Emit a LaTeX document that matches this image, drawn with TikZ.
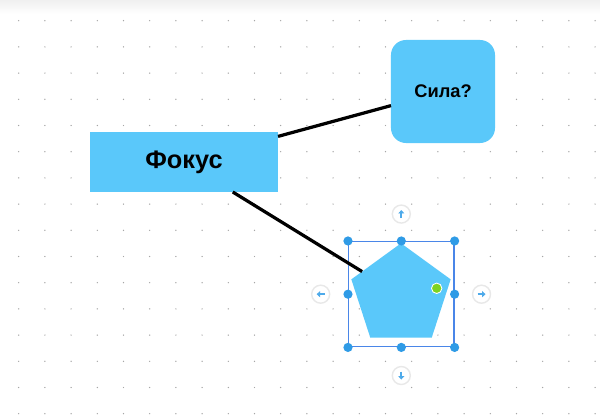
\documentclass[tikz,border=0pt]{standalone}
\usepackage{fontspec}
\setmainfont{Liberation Sans}
\usetikzlibrary{shapes.geometric, arrows.meta, positioning}
\definecolor{shapeblue}{HTML}{5AC8FA}
\definecolor{selblue}{HTML}{4A86E8}
\definecolor{handleblue}{HTML}{2F9BE6}
\definecolor{gripgreen}{HTML}{7ED321}
\tikzset{
  shapebox/.style={fill=shapeblue, inner sep=0pt, outer sep=0pt},
  link/.style={line width=2.3pt, black},
  handledot/.style={circle, fill=handleblue, minimum size=0.23cm, inner sep=0pt},
  navbtn/.style={circle, fill=white, draw=black!9, line width=1pt, minimum size=0.45cm, inner sep=0pt},
  navarrow/.style={-{Triangle[length=2.4pt,width=4.2pt]}, line width=1.3pt, handleblue!85},
}

\begin{document}
\begin{tikzpicture}[x=0.025cm, y=-0.025cm]
    \useasboundingbox (0,0) rectangle (600,418);
    \fill[white] (0,0) rectangle (600,418);
    \shade[top color=black!6, bottom color=white] (0,0) rectangle (600,14);
    \foreach \i in {0,...,22}
      \foreach \j in {0,...,15}
        \fill[black!35] (18.7+26.2*\i, 20.7+26.2*\j) circle (0.018cm);

    \node[shapebox, minimum width=4.7cm, minimum height=1.5cm,
          font=\bfseries\fontsize{18}{21}\selectfont] (fokus) at (184,162) {\raisebox{-1.5pt}{Фокус}};
    \node[shapebox, rounded corners=0.375cm, minimum width=2.6cm, minimum height=2.575cm,
          font=\bfseries\fontsize{13}{15}\selectfont] (sila) at (443,91.5) {\raisebox{-1pt}{Сила?}};
    \node[shapebox, regular polygon, regular polygon sides=5, minimum size=2.61cm] (pent) at (401,295.5) {};

    % selection frame round the pentagon
    \node[draw=selblue, line width=1pt, minimum width=2.63cm, minimum height=2.625cm, inner sep=0pt] (sel) at (401.3,294.2) {};

    \draw[link] (fokus) -- (sila);
    \draw[link] (fokus) -- (pent);

    \foreach \a in {north west, north, north east, west, east, south west, south, south east}
      \node[handledot] (h-\a) at (sel.\a) {};
    \node[circle, fill=gripgreen, draw=white, line width=0.6pt, minimum size=0.26cm, inner sep=0pt] (rot) at (436.7,288.3) {};

    \node[navbtn, above=0.43cm of sel.north] (up) {};
    \node[navbtn, below=0.46cm of sel.south] (down) {};
    \node[navbtn, left=0.44cm of sel.west] (left) {};
    \node[navbtn, right=0.43cm of sel.east] (right) {};
    \draw[navarrow] ([yshift=-0.1cm]up.center) -- ([yshift=0.1cm]up.center);
    \draw[navarrow] ([yshift=0.1cm]down.center) -- ([yshift=-0.1cm]down.center);
    \draw[navarrow] ([xshift=0.1cm]left.center) -- ([xshift=-0.1cm]left.center);
    \draw[navarrow] ([xshift=-0.1cm]right.center) -- ([xshift=0.1cm]right.center);
\end{tikzpicture}
\end{document}
